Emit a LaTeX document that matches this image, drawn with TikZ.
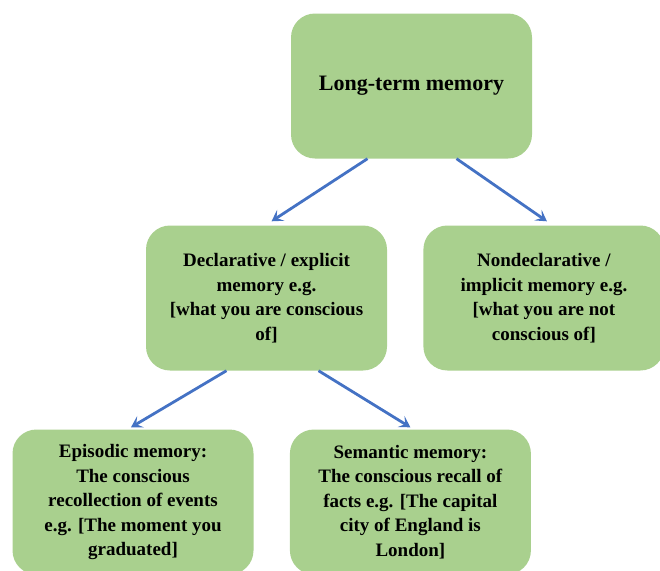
\documentclass[tikz,border=0pt]{standalone}
\usepackage{fontspec}
\setmainfont{Liberation Serif}
\usetikzlibrary{positioning,arrows.meta}
\definecolor{boxgreen}{HTML}{A9D08E}
\definecolor{arrowblue}{HTML}{4472C4}
\tikzset{
  memorybox/.style={fill=boxgreen, rounded corners=24pt, minimum width=241pt,
    minimum height=145pt, align=center, inner sep=2pt,
    font=\bfseries\fontsize{19}{24.5}\selectfont},
  branch/.style={draw=arrowblue, line width=2.8pt,
    -{Stealth[length=11pt,width=13pt,inset=5pt]}}
}
\begin{document}
\begin{tikzpicture}[x=1pt,y=-1pt]
  \useasboundingbox (0,0) rectangle (660,570);
  \clip (0,0) rectangle (660,570);
  \node [memorybox, font=\bfseries\fontsize{22}{26}\selectfont] (ltm) at (411.5,86) {Long-term memory};
  \node [memorybox] (decl) at (266.5,298) {Declarative / explicit\\memory e.g.\\{[what you are conscious}\\of]};
  \node [memorybox, right=36pt of decl] (nondecl) {Nondeclarative /\\implicit memory e.g.\\{[what you are not}\\conscious of]};
  \node [memorybox] (episodic) at (133,502) {Episodic memory:\\The conscious\\recollection of events\\e.g. [The moment you\\graduated]};
  \node [memorybox, right=36pt of episodic] (semantic) {Semantic memory:\\The conscious recall of\\facts e.g. [The capital\\city of England is\\London]};
  % arrows
  \draw [branch] ([xshift=-44pt]ltm.south) -- ([xshift=5pt,yshift=4pt]decl.north);
  \draw [branch] ([xshift=45pt]ltm.south) -- ([xshift=3pt,yshift=4pt]nondecl.north);
  \draw [branch] ([xshift=-40pt]decl.south) -- ([xshift=-2pt,yshift=2pt]episodic.north);
  \draw [branch] ([xshift=52pt]decl.south) -- ([xshift=0pt,yshift=2pt]semantic.north);
\end{tikzpicture}
\end{document}
